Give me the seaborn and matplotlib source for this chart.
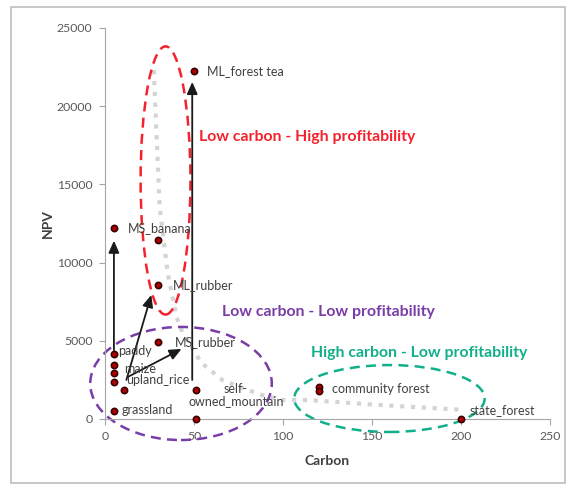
import matplotlib
matplotlib.use("Agg")
import matplotlib.pyplot as plt
import seaborn as sns
import pandas as pd
from matplotlib.patches import Ellipse, Rectangle

# land uses: carbon stock vs NPV
names = ["ML_forest tea", "MS_banana", "", "ML_rubber", "MS_rubber",
         "paddy", "", "maize", "upland_rice", "", "grassland",
         "self-\nowned_mountain", "", "community forest", "", "state_forest"]
carbon = [50, 5, 30, 30, 30, 5, 5, 5, 5, 10.5, 5, 51, 51, 120, 120, 200]
npv = [22250, 12200, 11450, 8570, 4920, 4150, 3450, 2940, 2370, 1850, 510,
       1850, 0, 2050, 1800, 0]

# grey dotted trade-off frontier
frontier_carbon = [27.4, 30.7, 35.2, 40.2, 43.6, 54.2, 65.9, 77.1, 88.3, 99.4,
                   114.5, 153.6, 202]
frontier_npv = [22300, 13550, 9330, 6520, 5500, 3580, 2490, 1980, 1530, 1210,
                1210, 900, 580]

# land use transition arrows (start -> end)
arrow_x0 = [5, 49, 12, 13]
arrow_y0 = [4400, 2500, 2500, 2700]
arrow_x1 = [5, 49, 26, 43]
arrow_y1 = [11400, 21550, 7930, 4480]

# zones
zone_labels = ["Low carbon - High profitability", "Low carbon - Low profitability",
               "High carbon - Low profitability"]
zone_cx = [34, 42.7, 159.8]
zone_cy = [15250, 2270, 1310]
zone_w = [28, 102, 107]
zone_h = [17150, 7230, 4280]
zone_text_x = [53, 66, 116]
zone_text_y = [18050, 6850, 4250]
zone_colors = ["#F5222D", "#7A3DA8", "#12B08A"]

# label offsets in pixels
offsets = {
    "ML_forest tea": (13, 0), "MS_banana": (14, 0), "ML_rubber": (14, 0),
    "MS_rubber": (16, 0), "paddy": (4, 3), "maize": (10, 4),
    "upland_rice": (12, 2), "grassland": (8, 1),
    "self-\nowned_mountain": (40, -5), "community forest": (13, -2),
    "state_forest": (9, 9),
}

sns.set_style("white")
plt.rcParams["font.family"] = ["Lato", "DejaVu Sans"]

df = pd.DataFrame({"Carbon": carbon, "NPV": npv, "name": names})

fig = plt.figure(figsize=(5.72, 4.9), dpi=100)
ax = fig.add_axes([0.1836, 0.1449, 0.7779, 0.798])

# frontier
ax.plot(frontier_carbon, frontier_npv, color="#D4D4D4", lw=3,
        linestyle=(0, (1, 1.6)), zorder=1)

# ellipses
for cx, cy, w, h, c in zip(zone_cx, zone_cy, zone_w, zone_h, zone_colors):
    ax.add_patch(Ellipse((cx, cy), w, h, fill=False, edgecolor=c, lw=1.8,
                         linestyle=(0, (4, 2.5)), clip_on=False, zorder=2))

# arrows
for x0, y0, x1, y1 in zip(arrow_x0, arrow_y0, arrow_x1, arrow_y1):
    ax.annotate("", xy=(x1, y1), xytext=(x0, y0),
                arrowprops=dict(arrowstyle="-|>,head_width=0.4,head_length=0.9",
                                color="#1a1a1a", lw=1.3,
                                mutation_scale=8, shrinkA=0, shrinkB=0),
                zorder=3)

sns.scatterplot(data=df, x="Carbon", y="NPV", ax=ax, s=20, color="#B00000",
                edgecolor="#3a0000", linewidth=1.2, zorder=4, clip_on=False)

for n, x, y in zip(names, carbon, npv):
    if not n:
        continue
    dx, dy = offsets[n]
    ha = "center" if "\n" in n else "left"
    ax.annotate(n, xy=(x, y), xytext=(dx, dy), textcoords="offset pixels",
                ha=ha, va="center", fontsize=9, color="#404040",
                multialignment="center", linespacing=1.0, zorder=5)

for t, x, y, c in zip(zone_labels, zone_text_x, zone_text_y, zone_colors):
    ax.text(x, y, t, color=c, fontsize=11.4, fontweight="bold", ha="left",
            va="center", zorder=5)

ax.set_xlim(0, 250)
ax.set_ylim(0, 25000)
ax.set_xticks(range(0, 251, 50))
ax.set_yticks(range(0, 25001, 5000))
ax.tick_params(axis="both", direction="out", length=4, width=0.8,
               color="#A6A6A6", labelsize=8.8, labelcolor="#595959", pad=5)
ax.tick_params(axis="both", which="both", bottom=True, left=True)
sns.despine(ax=ax)
for s in ["left", "bottom"]:
    ax.spines[s].set_color("#A6A6A6")
    ax.spines[s].set_linewidth(0.8)

ax.set_xlabel("Carbon", fontsize=10, fontweight="bold", color="#404040", labelpad=9)
ax.set_ylabel("NPV", fontsize=10, fontweight="bold", color="#404040", labelpad=2)

fig.add_artist(Rectangle((0.019, 0.015), 0.969, 0.97, transform=fig.transFigure,
                         fill=False, edgecolor="#BFBFBF", lw=1.2))

fig.savefig("out.png", dpi=100)
